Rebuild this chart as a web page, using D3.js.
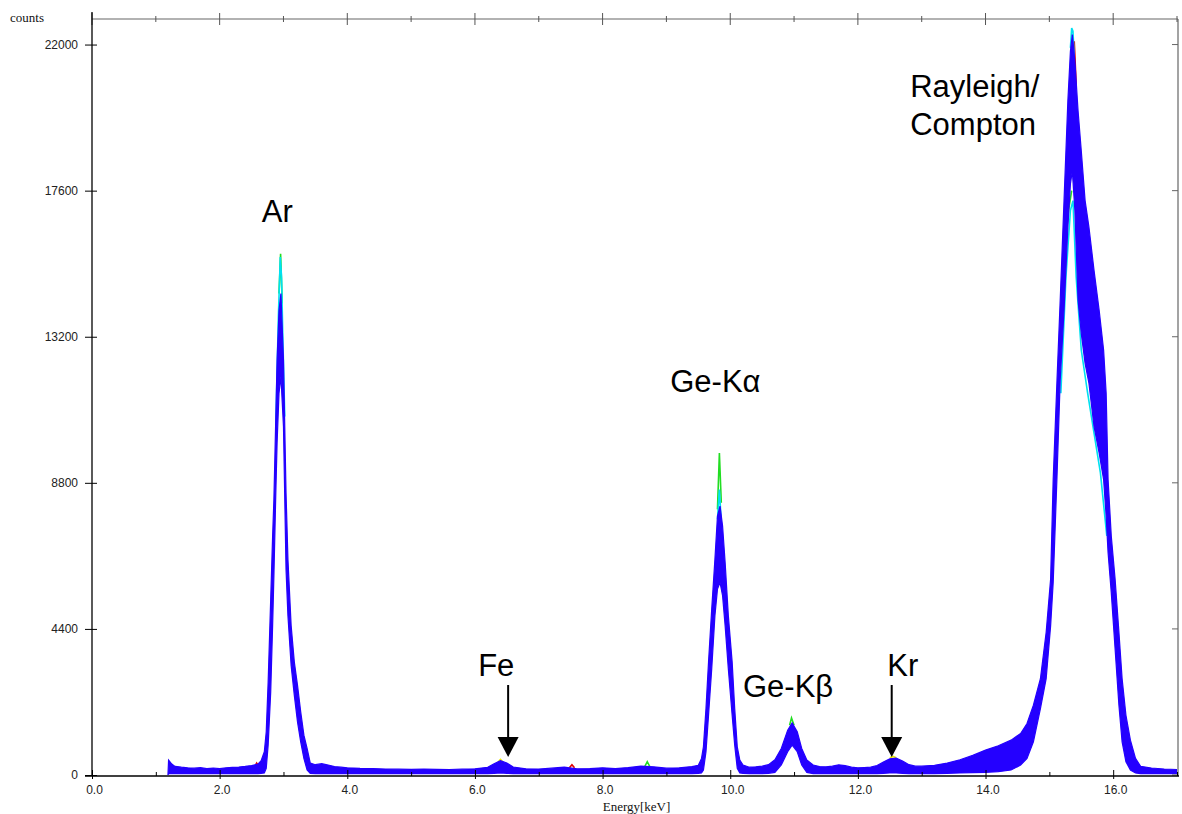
<!DOCTYPE html>
<html>
<head>
<meta charset="utf-8">
<script src="https://cdn.jsdelivr.net/npm/d3@7"></script>
<style>
  body { margin: 0; background: #fff; }
  svg { display: block; }
</style>
</head>
<body>
<script>
// spectrum envelope (keV, max counts, min counts)
const energyKeV = [1.19, 1.20, 1.25, 1.30, 1.40, 1.50, 1.60, 1.70, 1.80, 1.90, 2.00, 2.10, 2.20, 2.30, 2.40, 2.50, 2.60,
  2.65, 2.70, 2.73, 2.76, 2.80, 2.83, 2.85, 2.88, 2.90, 2.93, 2.96, 3.00, 3.04, 3.07, 3.12, 3.17, 3.22, 3.27, 3.32, 3.37, 3.42,
  3.50, 3.60, 3.70, 3.80, 3.90, 4.00, 4.20, 4.40, 4.60, 4.80, 5.00, 5.20, 5.40, 5.60, 5.80, 6.00, 6.20, 6.30, 6.40, 6.50, 6.60,
  6.80, 7.00, 7.20, 7.40, 7.60, 7.80, 8.00, 8.20, 8.40, 8.60, 8.80, 9.00, 9.20, 9.40, 9.50, 9.55, 9.58, 9.62, 9.66, 9.71, 9.76,
  9.80, 9.84, 9.88, 9.92, 9.97, 10.03, 10.07, 10.11, 10.15, 10.20, 10.30, 10.40, 10.50, 10.60, 10.70, 10.80, 10.90, 10.97,
  11.05, 11.12, 11.20, 11.30, 11.40, 11.50, 11.60, 11.70, 11.80, 11.90, 12.00, 12.10, 12.20, 12.30, 12.40, 12.50, 12.60,
  12.70, 12.80, 12.90, 13.00, 13.20, 13.40, 13.60, 13.80, 14.00, 14.20, 14.40, 14.55, 14.65, 14.75, 14.86, 14.95, 15.02,
  15.06, 15.12, 15.17, 15.23, 15.29, 15.33, 15.36, 15.40, 15.45, 15.50, 15.56, 15.62, 15.70, 15.78, 15.85, 15.89, 15.92,
  15.97, 16.03, 16.09, 16.14, 16.20, 16.27, 16.35, 16.43, 16.60, 16.80, 17.00];

const countsMax = [0, 450, 330, 260, 235, 215, 205, 220, 195, 210, 190, 215, 230, 240, 260, 285, 330,
  430, 700, 1300, 2800, 5300, 7200, 8300, 10800, 12500, 14000, 14500, 12500, 8500, 6500, 4500, 3400, 2700, 1900, 1200, 800, 360,
  310, 340, 300, 255, 235, 215, 200, 195, 180, 175, 170, 180, 170, 165, 175, 185, 230, 340, 430, 360, 240,
  185, 180, 205, 235, 185, 195, 215, 195, 225, 265, 245, 205, 215, 255, 290, 500, 850, 2000, 3400, 5000, 6500,
  7800, 8100, 7500, 6400, 4800, 3400, 2000, 850, 450, 300, 235, 245, 265, 310, 460, 800, 1350, 1570,
  1300, 800, 450, 300, 255, 245, 265, 305, 280, 235, 215, 225, 235, 285, 390, 490, 510,
  420, 310, 265, 265, 290, 360, 460, 590, 750, 880, 1050, 1250, 1550, 2100, 2900, 4300, 5900,
  8900, 11900, 14300, 17300, 20300, 21800, 22300, 21500, 20000, 18800, 17300, 16500, 15200, 14000, 12800, 11500, 8900,
  7200, 5900, 4300, 2900, 1800, 1050, 500, 260, 210, 180, 165];

const countsMin = [0, 40, 40, 40, 40, 40, 40, 40, 40, 40, 40, 40, 40, 40, 40, 40, 40,
  50, 60, 200, 900, 2500, 4500, 6000, 8500, 10000, 11500, 12000, 10500, 6200, 4800, 3300, 2400, 1600, 1000, 500, 150, 50,
  40, 40, 40, 40, 40, 40, 40, 40, 40, 40, 40, 40, 40, 40, 40, 40, 40, 50, 60, 50, 40,
  40, 40, 40, 40, 40, 40, 40, 40, 40, 40, 40, 40, 40, 40, 50, 60, 150, 700, 1800, 3200, 4800,
  5600, 5800, 5400, 4500, 3200, 1800, 900, 200, 60, 50, 40, 40, 40, 50, 80, 300, 700, 900,
  700, 300, 80, 40, 40, 40, 40, 40, 40, 40, 40, 40, 40, 40, 50, 60, 60,
  50, 40, 40, 40, 40, 50, 60, 70, 80, 100, 150, 300, 500, 1000, 2000, 2900, 4500,
  5800, 9000, 11900, 14000, 16500, 17800, 18200, 17000, 14300, 13300, 12400, 11800, 10500, 9700, 8900, 7800, 6700,
  5500, 3800, 2100, 1000, 400, 150, 60, 40, 40, 40, 40];

// single spectra that stick out of the blue bundle ([keV, counts], null = gap)
const traceCyan = [[2.88, 10500], [2.92, 13800], [2.95, 15600], [2.97, 15000], [2.99, 13200], [3.02, 10800], null,
  [9.80, 7700], [9.83, 8600], [9.86, 7600], null,
  [15.18, 11500], [15.26, 15000], [15.33, 17000], [15.37, 17300], [15.42, 15000], [15.50, 12800], [15.60, 11500],
  [15.70, 10300], [15.80, 9100], [15.90, 7200], null,
  [15.33, 21900], [15.35, 22500], [15.37, 22400], [15.39, 21600]];
const traceGreen = [[2.93, 14500], [2.955, 15700], [2.98, 14200], null,
  [9.80, 8000], [9.83, 9700], [9.86, 8200], null,
  [10.93, 1500], [10.96, 1720], [11.00, 1500], null,
  [8.66, 250], [8.70, 400], [8.74, 250], null,
  [15.24, 15800], [15.30, 17000], [15.35, 17600]];
const traceRed = [[7.48, 220], [7.52, 310], [7.56, 220], null,
  [2.56, 280], [2.58, 360], [2.60, 300], null,
  [15.39, 22100], [15.42, 20800]];
const traceYellow = [[6.36, 380], [6.40, 470], [6.44, 380], null,
  [12.50, 520], [12.55, 560], [12.60, 520]];

const xTicks = d3.range(0, 18);
const yTicks = [0, 4400, 8800, 13200, 17600, 22000];

// peak labels: text, keV, counts (baseline anchor)
const labelText = ["Ar", "Ge-K\u03b1", "Fe", "Ge-K\u03b2", "Kr", "Rayleigh/", "Compton"];
const labelKeV = [2.66, 9.06, 6.05, 10.20, 12.46, 12.82, 12.82];
const labelCounts = [16650, 11540, 2980, 2350, 2980, 20430, 19290];

// arrows: keV, start counts, tip counts
const arrowKeV = [6.52, 12.53];
const arrowFrom = [2710, 2710];
const arrowTo = [540, 540];

const W = 1182, H = 814;
const margin = {top: 18, right: 1177, bottom: 775, left: 92};

const svg = d3.select("body").append("svg")
  .attr("width", W).attr("height", H);

const x = d3.scaleLinear().domain([0, 17]).range([margin.left, margin.right]);
const y = d3.scaleLinear().domain([0, 22800]).range([margin.bottom, margin.top]);

svg.append("defs").append("clipPath").attr("id", "plot")
  .append("rect").attr("x", margin.left).attr("y", margin.top)
  .attr("width", margin.right - margin.left).attr("height", margin.bottom - margin.top);

const g = svg.append("g").attr("clip-path", "url(#plot)");

// colored single spectra underneath
const tline = d3.line().defined(d => d !== null).x(d => x(d[0])).y(d => y(d[1]));
[[traceYellow, "#e8e800"], [traceRed, "#e00000"], [traceGreen, "#22dd22"], [traceCyan, "#00e0f0"]].forEach(([t, c]) => {
  g.append("path").datum(t).attr("d", tline)
    .attr("fill", "none").attr("stroke", c).attr("stroke-width", 1.6);
});

// blue bundle
const spectrum = energyKeV.map((e, i) => ({e: e, hi: countsMax[i], lo: countsMin[i]}));
const blue = "#2400ff";
g.append("path").datum(spectrum)
  .attr("d", d3.area().x(d => x(d.e)).y0(d => y(d.lo)).y1(d => y(d.hi)))
  .attr("fill", blue).attr("stroke", blue).attr("stroke-width", 1.2);

// frame: top and right in gray
svg.append("line").attr("x1", margin.left).attr("x2", margin.right + 1)
  .attr("y1", margin.top + 1).attr("y2", margin.top + 1)
  .attr("stroke", "#666").attr("stroke-width", 1.2);
svg.append("line").attr("x1", margin.right + 1).attr("x2", margin.right + 1)
  .attr("y1", margin.top + 1).attr("y2", margin.bottom + 1)
  .attr("stroke", "#666").attr("stroke-width", 1.2);

// top ticks
svg.append("g").selectAll("line").data(xTicks).join("line")
  .attr("x1", d => x(d)).attr("x2", d => x(d))
  .attr("y1", d => d % 2 === 0 ? margin.top - 5 : margin.top - 2)
  .attr("y2", d => d % 2 === 0 ? margin.top + 7 : margin.top + 4)
  .attr("stroke", "#555").attr("stroke-width", 1);

// right ticks, inward
svg.append("g").selectAll("line").data(yTicks).join("line")
  .attr("x1", margin.right - 5).attr("x2", margin.right + 1)
  .attr("y1", d => y(d)).attr("y2", d => y(d))
  .attr("stroke", "#666").attr("stroke-width", 1);

// left axis
const yAxis = svg.append("g").attr("transform", "translate(" + margin.left + ",0)")
  .call(d3.axisLeft(y).tickValues(yTicks).tickFormat(d3.format("d")).tickSizeOuter(0).tickSizeInner(7).tickPadding(7));
yAxis.select(".domain").remove();
yAxis.selectAll(".tick line").attr("x1", 5).attr("x2", -7).attr("stroke", "#000");
yAxis.selectAll(".tick text").attr("font-family", "'Liberation Sans', Arial, sans-serif")
  .attr("font-size", 12).attr("fill", "#222");
svg.append("line").attr("x1", margin.left).attr("x2", margin.left)
  .attr("y1", margin.top - 6).attr("y2", margin.bottom + 1)
  .attr("stroke", "#000").attr("stroke-width", 1.3);

// bottom axis
const xAxis = svg.append("g").attr("transform", "translate(0," + (margin.bottom + 1) + ")")
  .call(d3.axisBottom(x).tickValues(xTicks)
    .tickFormat(d => d % 2 === 0 ? d3.format(".1f")(d) : "")
    .tickSizeOuter(0).tickSizeInner(3).tickPadding(6));
xAxis.select(".domain").remove();
xAxis.selectAll(".tick line")
  .attr("y1", d => d % 2 === 0 ? -6 : -4)
  .attr("y2", d => d % 2 === 0 ? 3 : 0)
  .attr("stroke", "#000");
xAxis.selectAll(".tick text").attr("font-family", "'Liberation Sans', Arial, sans-serif")
  .attr("font-size", 12).attr("fill", "#222").attr("dx", 2);
svg.append("line").attr("x1", margin.left - 7).attr("x2", margin.right + 2)
  .attr("y1", margin.bottom + 1).attr("y2", margin.bottom + 1)
  .attr("stroke", "#000").attr("stroke-width", 1.3);

// axis titles
svg.append("text").attr("x", 10).attr("y", 22).text("counts")
  .attr("font-family", "'Liberation Serif', 'Times New Roman', serif").attr("font-size", 13).attr("fill", "#111");
svg.append("text").attr("x", (margin.left + margin.right) / 2 + 2).attr("y", 811)
  .attr("text-anchor", "middle").text("Energy[keV]")
  .attr("font-family", "'Liberation Serif', 'Times New Roman', serif").attr("font-size", 13).attr("fill", "#111");

// peak labels
svg.append("g").selectAll("text").data(labelText).join("text")
  .attr("x", (d, i) => x(labelKeV[i])).attr("y", (d, i) => y(labelCounts[i]))
  .text(d => d)
  .attr("font-family", "'Liberation Sans', Arial, sans-serif").attr("font-size", 31).attr("fill", "#000");

// arrows
arrowKeV.forEach((k, i) => {
  const ax = x(k), y0 = y(arrowFrom[i]), y1 = y(arrowTo[i]);
  svg.append("line").attr("x1", ax).attr("x2", ax).attr("y1", y0).attr("y2", y1 - 18)
    .attr("stroke", "#000").attr("stroke-width", 2);
  svg.append("path")
    .attr("d", "M" + (ax - 10.5) + "," + (y1 - 20) + "L" + (ax + 10.5) + "," + (y1 - 20) + "L" + ax + "," + y1 + "Z")
    .attr("fill", "#000");
});
</script>
</body>
</html>
